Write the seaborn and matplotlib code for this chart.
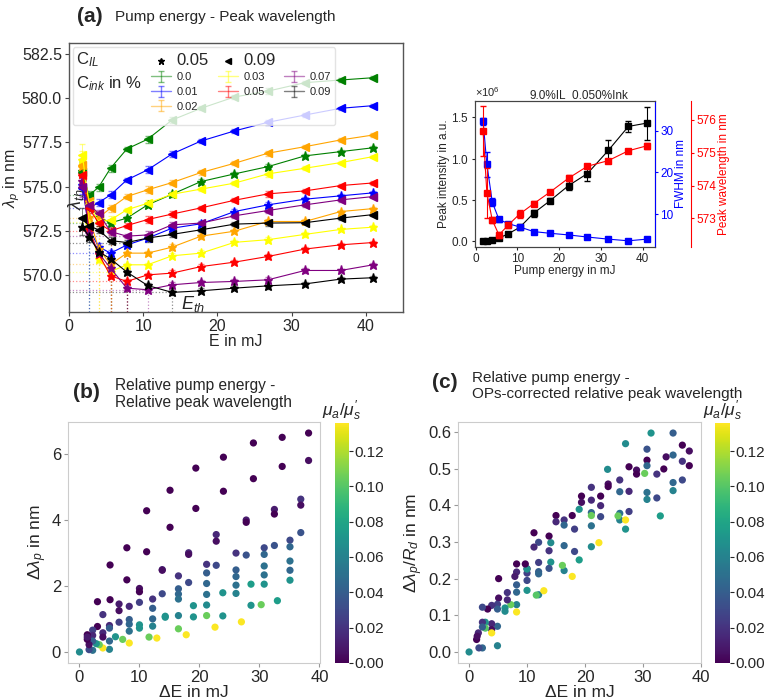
import numpy as np
import matplotlib
matplotlib.use("Agg")
import matplotlib.pyplot as plt
from matplotlib.lines import Line2D
from matplotlib.colors import Normalize
from matplotlib.cm import ScalarMappable
import seaborn as sns

sns.set_style("ticks")
plt.rcParams['font.family'] = ['Liberation Sans', 'DejaVu Sans']
plt.rcParams['mathtext.fontset'] = 'custom'
plt.rcParams['mathtext.rm'] = 'Liberation Sans'
plt.rcParams['mathtext.it'] = 'Liberation Sans:italic'
plt.rcParams['mathtext.bf'] = 'Liberation Sans:bold'

# ── Data: (a) pump energy vs peak wavelength ────────────────────────────────
energy = [1.8, 2.7, 4.0, 5.6, 7.8, 10.6, 13.9, 17.8, 22.3, 26.8, 31.8, 36.6, 41.0]
ink_labels = ['0.0', '0.01', '0.02', '0.03', '0.05', '0.07', '0.09']
ink_colors = ['green', 'blue', 'orange', 'yellow', 'red', 'purple', 'black']

# C_IL = 0.05 (stars), one row per ink concentration
lam_il05 = [
    [575.9, 574.0, 573.3, 572.95, 573.22, 573.97, 574.57, 575.29, 575.72, 576.13, 576.74, 576.98, 577.2],
    [575.1, 572.6, 571.6, 571.24, 571.7, 572.09, 572.65, 572.9, 573.59, 573.97, 574.29, 574.48, 574.65],
    [576.1, 573.3, 571.5, 570.6, 571.24, 571.24, 571.58, 572.2, 572.48, 573.03, 573.03, 573.59, 573.76],
    [576.5, 572.9, 570.9, 570.2, 570.58, 570.58, 571.09, 571.24, 571.85, 572.0, 572.3, 572.58, 572.71],
    [575.7, 572.6, 571.2, 569.96, 569.64, 570.01, 570.11, 570.48, 570.73, 571.05, 571.47, 571.71, 571.84],
    [575.3, 572.4, 571.24, 570.39, 569.26, 569.17, 569.45, 569.58, 569.64, 569.73, 570.26, 570.26, 570.58],
    [572.74, 572.18, 571.33, 570.92, 570.17, 569.41, 569.02, 569.11, 569.26, 569.39, 569.5, 569.77, 569.85],
]
# C_IL = 0.09 (triangles)
lam_il09 = [
    [575.85, 574.5, 574.97, 576.04, 577.13, 577.68, 578.77, 579.43, 580.07, 580.4, 580.88, 581.03, 581.16],
    [574.9, 573.78, 574.1, 574.53, 575.38, 575.95, 576.85, 577.58, 578.15, 578.64, 579.05, 579.43, 579.58],
    [576.2, 574.2, 573.25, 573.78, 574.44, 574.82, 575.23, 575.8, 576.32, 576.89, 577.26, 577.64, 577.92],
    [576.8, 574.0, 573.0, 573.12, 573.69, 574.06, 574.57, 574.86, 575.2, 575.72, 576.04, 576.36, 576.7],
    [575.65, 573.78, 572.95, 572.5, 572.8, 573.14, 573.45, 573.8, 574.23, 574.59, 574.76, 575.06, 575.21],
    [575.0, 573.97, 573.5, 572.46, 572.2, 572.27, 572.84, 572.94, 573.35, 573.65, 573.97, 574.25, 574.44],
    [573.2, 572.78, 572.56, 571.95, 571.84, 572.09, 572.3, 572.56, 572.88, 572.94, 572.96, 573.22, 573.42],
]
err_il05 = [0.5, 0.3, 0.2, 0.15, 0.12, 0.12, 0.15, 0.15, 0.12, 0.15, 0.12, 0.1, 0.1]
err_il09 = [0.6, 0.25, 0.2, 0.2, 0.12, 0.2, 0.15, 0.12, 0.12, 0.15, 0.1, 0.1, 0.1]

# ── Data: inset 9.0%IL_0.050%Ink ─────────────────────────────────────────────
inset_intensity = [0.0, 0.005, 0.02, 0.04, 0.09, 0.17, 0.34, 0.49, 0.675, 0.82, 1.10, 1.39, 1.43]
inset_int_err = [0.005, 0.005, 0.01, 0.01, 0.02, 0.02, 0.04, 0.03, 0.06, 0.09, 0.12, 0.07, 0.2]
inset_fwhm = [32.2, 22.0, 12.9, 8.8, 7.8, 7.0, 5.9, 5.5, 5.1, 4.6, 4.1, 3.7, 4.1]
inset_fwhm_err = [0.8, 3.0, 1.0, 0.5, 0.3, 0.3, 0.2, 0.2, 0.2, 0.2, 0.2, 0.2, 0.2]
inset_peak = [575.65, 573.78, 572.95, 572.5, 572.8, 573.14, 573.45, 573.8, 574.23, 574.59, 574.76, 575.06, 575.21]
inset_peak_err = [0.76, 0.76, 0.1, 0.08, 0.1, 0.12, 0.08, 0.06, 0.1, 0.06, 0.06, 0.05, 0.1]

# ── Data: (b) relative pump energy vs relative peak wavelength ──────────────
b_dE = [38.2, 38.2, 36.9, 36.9, 36.9, 35.1, 35.1, 35.1, 35.1, 35.1, 33.8, 33.8, 33.0,
        32.5, 32.5, 32.5, 30.8, 30.8, 30.8, 30.8, 30.8, 30.3, 29.0, 29.0, 28.6, 28.6,
        27.8, 27.8, 27.8, 27.0, 26.1, 26.1, 26.1, 26.1, 26.1, 24.0, 24.0, 23.9, 23.9,
        22.8, 22.8, 22.8, 22.6, 21.2, 21.2, 21.2, 21.2, 21.2, 21.2, 19.4, 19.4, 19.0,
        19.0, 18.2, 18.2, 18.2, 17.8, 16.5, 16.5, 16.5, 16.5, 16.5, 16.5, 15.1, 15.1,
        14.3, 14.3, 13.8, 13.8, 13.8, 12.9, 12.2, 12.2, 12.2, 12.2, 11.6, 11.2, 11.2,
        10.0, 10.0, 10.0, 10.0, 10.0, 8.3, 8.3, 8.3, 8.3, 8.3, 7.9, 7.9, 7.2, 6.6, 6.6,
        6.6, 6.0, 5.1, 5.1, 5.0, 5.0, 5.0, 5.0, 3.9, 3.9, 3.9, 3.9, 3.3, 3.0, 3.0, 2.8,
        2.2, 2.2, 2.2, 2.2, 1.6, 1.6, 1.3, 1.3, 1.3, 0.0]
b_dlam = [6.62, 5.79, 4.62, 4.44, 3.61, 3.38, 3.18, 2.75, 2.47, 2.17, 6.49, 5.61, 1.55,
          4.31, 4.17, 3.22, 3.15, 2.95, 2.6, 2.33, 2.05, 1.43, 6.32, 5.24, 1.41, 2.05,
          3.99, 3.92, 2.93, 0.91, 2.99, 2.48, 2.28, 2.02, 1.77, 5.89, 4.86, 1.79, 1.09,
          3.55, 3.35, 2.62, 0.75, 2.65, 2.39, 2.07, 1.74, 1.42, 1.1, 5.56, 4.34, 1.4,
          1.06, 3.0, 2.95, 2.1, 0.52, 2.3, 1.91, 1.75, 1.6, 1.1, 0.7, 4.89, 3.77,
          1.08, 1.05, 2.49, 2.47, 1.76, 0.42, 1.6, 1.32, 1.0, 0.78, 0.45, 4.27, 3.03,
          1.92, 1.82, 1.5, 0.82, 0.72, 1.38, 0.98, 0.84, 0.63, 0.27, 3.15, 2.18, 0.38,
          1.45, 1.25, 0.9, 0.46, 2.63, 1.58, 0.8, 0.72, 0.33, 0.08, 1.13, 0.58, 0.45,
          0.12, 0.22, 1.52, 0.77, 0.25, 0.66, 0.5, 0.33, 0.05, 0.07, 0.22, 0.52, 0.38,
          0.45, 0.0]
b_mu = [0.0, 0.005, 0.02, 0.005, 0.035, 0.03, 0.045, 0.05, 0.045, 0.07, 0.0, 0.0, 0.075,
        0.01, 0.0, 0.035, 0.03, 0.045, 0.05, 0.05, 0.07, 0.105, 0.0, 0.0, 0.07, 0.075,
        0.01, 0.0, 0.035, 0.135, 0.02, 0.04, 0.045, 0.05, 0.06, 0.0, 0.0, 0.07, 0.07,
        0.015, 0.005, 0.03, 0.135, 0.02, 0.04, 0.045, 0.05, 0.065, 0.105, 0.0, 0.0, 0.07,
        0.07, 0.015, 0.005, 0.03, 0.135, 0.02, 0.04, 0.045, 0.05, 0.06, 0.105, 0.0, 0.0,
        0.07, 0.07, 0.015, 0.005, 0.03, 0.135, 0.02, 0.04, 0.045, 0.06, 0.105, 0.0, 0.0,
        0.005, 0.0, 0.025, 0.07, 0.07, 0.015, 0.04, 0.045, 0.05, 0.135, 0.0, 0.0, 0.105,
        0.01, 0.005, 0.025, 0.07, 0.0, 0.0, 0.015, 0.04, 0.045, 0.06, 0.02, 0.015, 0.005,
        0.135, 0.105, 0.0, 0.0, 0.07, 0.025, 0.015, 0.04, 0.05, 0.03, 0.005, 0.0, 0.0,
        0.01, 0.065]

# ── Data: (c) OPs-corrected relative peak wavelength ────────────────────────
c_dE = [31.4, 35.2, 27.0, 36.8, 38.0, 30.7, 35.2, 34.0, 36.8, 30.7, 30.7, 38.0, 27.6,
        23.9, 28.9, 28.9, 30.3, 33.6, 32.4, 35.2, 36.8, 35.2, 30.7, 30.7, 32.4, 33.0,
        27.6, 27.6, 26.0, 26.0, 26.0, 26.0, 25.7, 27.0, 27.0, 24.0, 24.0, 22.7, 22.7,
        22.7, 22.4, 21.1, 21.1, 21.1, 21.1, 21.1, 21.1, 19.4, 19.4, 19.0, 19.0, 17.8,
        18.2, 18.2, 17.8, 16.4, 16.4, 16.4, 16.4, 16.1, 15.0, 15.0, 14.1, 14.1, 13.8,
        13.8, 13.8, 12.0, 12.0, 12.0, 12.0, 12.0, 11.6, 12.9, 11.2, 11.2, 10.0, 10.0,
        10.0, 10.0, 10.0, 9.7, 8.2, 8.2, 8.2, 8.2, 8.2, 8.2, 7.9, 7.2, 6.6, 6.6, 6.2,
        6.2, 5.1, 5.1, 4.9, 4.9, 4.9, 4.9, 3.9, 3.9, 3.9, 3.9, 3.2, 2.8, 2.8, 2.3, 2.3,
        2.3, 2.3, 1.7, 1.6, 1.3, 1.4, 0.0]
c_dlam = [0.597, 0.597, 0.568, 0.564, 0.548, 0.553, 0.537, 0.532, 0.52, 0.523, 0.508, 0.508, 0.505,
          0.498, 0.496, 0.485, 0.487, 0.499, 0.485, 0.462, 0.469, 0.44, 0.435, 0.416, 0.42, 0.371,
          0.438, 0.383, 0.469, 0.437, 0.378, 0.36, 0.371, 0.36, 0.335, 0.458, 0.451, 0.425, 0.399,
          0.369, 0.298, 0.449, 0.414, 0.38, 0.372, 0.344, 0.287, 0.425, 0.408, 0.389, 0.251, 0.372,
          0.335, 0.274, 0.206, 0.36, 0.346, 0.29, 0.222, 0.236, 0.372, 0.355, 0.298, 0.245, 0.316,
          0.276, 0.228, 0.299, 0.244, 0.219, 0.213, 0.156, 0.155, 0.167, 0.325, 0.286, 0.227, 0.215,
          0.226, 0.195, 0.168, 0.24, 0.24, 0.218, 0.183, 0.163, 0.129, 0.109, 0.206, 0.129, 0.162,
          0.142, 0.12, 0.111, 0.2, 0.147, 0.13, 0.117, 0.07, 0.017, 0.127, 0.077, 0.061, 0.052,
          0.117, 0.081, 0.065, 0.122, 0.081, 0.068, 0.011, 0.011, 0.052, 0.034, 0.043, 0.0]
c_mu = [0.07, 0.04, 0.065, 0.0, 0.005, 0.035, 0.045, 0.005, 0.02, 0.0, 0.045, 0.0, 0.0,
        0.065, 0.005, 0.0, 0.105, 0.0, 0.02, 0.045, 0.03, 0.06, 0.05, 0.06, 0.03, 0.075,
        0.015, 0.025, 0.02, 0.045, 0.05, 0.06, 0.105, 0.135, 0.07, 0.005, 0.0, 0.0, 0.015,
        0.03, 0.135, 0.02, 0.015, 0.045, 0.105, 0.05, 0.065, 0.0, 0.005, 0.07, 0.075, 0.0,
        0.025, 0.03, 0.135, 0.02, 0.045, 0.045, 0.06, 0.105, 0.0, 0.015, 0.065, 0.07, 0.0,
        0.02, 0.035, 0.03, 0.025, 0.04, 0.045, 0.06, 0.1, 0.135, 0.0, 0.015, 0.005, 0.025,
        0.07, 0.03, 0.07, 0.0, 0.0, 0.015, 0.04, 0.045, 0.06, 0.135, 0.01, 0.105, 0.02,
        0.015, 0.07, 0.065, 0.0, 0.005, 0.025, 0.04, 0.045, 0.06, 0.02, 0.015, 0.005, 0.135,
        0.0, 0.07, 0.1, 0.03, 0.02, 0.04, 0.045, 0.03, 0.015, 0.0, 0.005, 0.065]

MU_MAX = 0.136

fig = plt.figure(figsize=(7.66, 7.0), dpi=100)

# ─────────────────────────────────────────────────────────────────────────────
# (a) Pump energy - Peak wavelength
# ─────────────────────────────────────────────────────────────────────────────
ax_a = fig.add_axes([0.090, 0.554, 0.436, 0.384])
Y_LO, Y_HI = 567.9, 583.1

for lam_set, err_set, marker, ms in [(lam_il05, err_il05, '*', 6.5), (lam_il09, err_il09, '<', 5.5)]:
    for k, col in enumerate(ink_colors):
        lam = np.array(lam_set[k])
        eb = ax_a.errorbar(energy, lam, yerr=err_set, color=col, marker=marker, ms=ms,
                           lw=0.8, elinewidth=0.7, capsize=2, zorder=3)
        for bar in eb[2]:
            bar.set_alpha(0.5)
        for cap in eb[1]:
            cap.set_alpha(0.5)
        i = int(np.argmin(lam))
        ax_a.plot([0, energy[i]], [lam[i], lam[i]], ls=':', color=col, alpha=0.45, lw=0.9, zorder=1)
        ax_a.plot([energy[i], energy[i]], [Y_LO, lam[i]], ls=':', color=col, alpha=0.45, lw=0.9, zorder=1)

ax_a.set_xlim(0, 45)
ax_a.set_ylim(Y_LO, Y_HI)
ax_a.set_xticks([0, 10, 20, 30, 40])
ax_a.set_yticks([570.0, 572.5, 575.0, 577.5, 580.0, 582.5])
ax_a.yaxis.set_major_formatter(matplotlib.ticker.FormatStrFormatter('%.1f'))
ax_a.tick_params(labelsize=11.5, length=3, color='#444444', pad=2)
ax_a.set_xlabel("E in mJ", fontsize=11.5, labelpad=0)
ax_a.set_ylabel(r"$\lambda_p$ in nm", fontsize=11.5, labelpad=0)
for s in ax_a.spines.values():
    s.set_color('#555555')
    s.set_linewidth(1.0)

ax_a.text(15.1, 568.35, r"$E_{th}$", fontsize=13, ha='left', va='center')
ax_a.text(1.0, 574.3, r"$\lambda_{th}$", fontsize=13, rotation=90, ha='center', va='center')

# legend: C_IL markers + C_ink error-bar handles
blank = Line2D([], [], ls='none')
h_star = Line2D([], [], ls='none', marker='*', color='black', ms=5)
h_tri = Line2D([], [], ls='none', marker='<', color='black', ms=4)
ink_handles = []
for col in ink_colors:
    eb = ax_a.errorbar([np.nan], [np.nan], yerr=[0.1], color=col, lw=1.0, capsize=2.5,
                       alpha=0.5, label='_nolegend_')
    ink_handles.append(eb)

handles = [blank, blank, blank, blank,
           h_star, ink_handles[0], ink_handles[1], ink_handles[2],
           h_tri, ink_handles[3], ink_handles[4], blank,
           blank, ink_handles[5], ink_handles[6], blank]
labels = [r"C$_{IL}$", r"C$_{ink}$ in %", "", "",
          "0.05", ink_labels[0], ink_labels[1], ink_labels[2],
          "0.09", ink_labels[3], ink_labels[4], "",
          "", ink_labels[5], ink_labels[6], ""]
leg = ax_a.legend(handles, labels, ncol=4, loc='upper left', fontsize=8,
                  handlelength=1.8, handletextpad=0.5, columnspacing=0.8,
                  labelspacing=0.42, borderpad=0.3, borderaxespad=0.35,
                  framealpha=0.8, edgecolor='#dddddd', fancybox=True)
texts = leg.get_texts()
for idx in (0, 1):
    texts[idx].set_fontsize(12)
for idx in (4, 8, 12):
    texts[idx].set_fontsize(12)
try:
    col0 = leg._legend_handle_box.get_children()[0]
    for row in col0.get_children():
        row.get_children()[0].width = 0
        row.sep = 0
except Exception:
    pass

fig.text(90 / 766, 1 - 17 / 700, "(a)", fontsize=15, fontweight='bold', ha='center', va='center')
fig.text(115 / 766, 1 - 17 / 700, "Pump energy - Peak wavelength", fontsize=11, ha='left', va='center')

# ─────────────────────────────────────────────────────────────────────────────
# Inset: 9.0%IL_0.050%Ink
# ─────────────────────────────────────────────────────────────────────────────
ax_i = fig.add_axes([0.620, 0.647, 0.235, 0.209])
inset_int = np.array(inset_intensity) * 1e6
ax_i.errorbar(energy, inset_int, yerr=np.array(inset_int_err) * 1e6, color='black',
              marker='s', ms=4.5, lw=0.8, elinewidth=0.8, capsize=2)
ax_i.set_ylim(-0.07e6, 1.70e6)
ax_i.set_yticks([0, 0.5e6, 1.0e6, 1.5e6])
ax_i.ticklabel_format(axis='y', style='sci', scilimits=(0, 0), useMathText=True)
ax_i.yaxis.get_offset_text().set_fontsize(8)
ax_i.set_xticks([0, 10, 20, 30, 40])
ax_i.tick_params(labelsize=8.5, length=2.5, pad=1.5)
ax_i.set_xlabel("Pump energy in mJ", fontsize=8.5, labelpad=0)
ax_i.set_ylabel("Peak intensity in a.u.", fontsize=8.5, labelpad=1)
ax_i.set_title("9.0%IL_0.050%Ink", fontsize=8.5, pad=2, x=0.58)

ax_i2 = ax_i.twinx()
ax_i2.errorbar(energy, inset_fwhm, yerr=inset_fwhm_err, color='blue', marker='s', ms=4.5,
               lw=0.8, elinewidth=0.8, capsize=2)
ax_i2.set_ylim(2.2, 37.1)
ax_i2.set_yticks([10, 20, 30])
ax_i2.tick_params(axis='y', colors='blue', labelsize=8.5, length=2.5, pad=1.5)
ax_i2.set_ylabel("FWHM in nm", color='blue', fontsize=8.5, labelpad=1)
ax_i2.spines['right'].set_color('blue')

ax_i3 = ax_i.twinx()
ax_i3.spines['right'].set_position(('outward', 26))
ax_i3.errorbar(energy, inset_peak, yerr=inset_peak_err, color='red', marker='s', ms=4.5,
               lw=0.8, elinewidth=0.8, capsize=2)
ax_i3.set_ylim(572.13, 576.58)
ax_i3.set_yticks([573, 574, 575, 576])
ax_i3.tick_params(axis='y', colors='red', labelsize=8.5, length=2.5, pad=1.5)
ax_i3.set_ylabel("Peak wavelength in nm", color='red', fontsize=8.5, labelpad=1)
ax_i3.spines['right'].set_color('red')
for a in (ax_i, ax_i2, ax_i3):
    for side in ('left', 'top', 'bottom'):
        a.spines[side].set_color('#444444')
ax_i3.spines['left'].set_visible(False)
ax_i3.spines['top'].set_visible(False)
ax_i3.spines['bottom'].set_visible(False)

# ─────────────────────────────────────────────────────────────────────────────
# (b) and (c) scatter panels
# ─────────────────────────────────────────────────────────────────────────────
norm = Normalize(vmin=0.0, vmax=MU_MAX)


def scatter_panel(rect, cbar_rect, dE, dlam, mu, ylabel, yticks, yfmt):
    ax = fig.add_axes(rect)
    sns.scatterplot(x=dE, y=dlam, hue=mu, palette='viridis', hue_norm=norm, s=27,
                    linewidth=0, legend=False, ax=ax)
    ax.set_xticks([0, 10, 20, 30, 40])
    ax.set_yticks(yticks)
    ax.yaxis.set_major_formatter(matplotlib.ticker.FormatStrFormatter(yfmt))
    ax.tick_params(labelsize=12, length=3, color='#999999', pad=2)
    ax.set_xlabel("ΔE in mJ", fontsize=12.5, labelpad=0)
    ax.set_ylabel(ylabel, fontsize=12.5, labelpad=2)
    for s in ax.spines.values():
        s.set_color('#cccccc')
    cax = fig.add_axes(cbar_rect)
    cb = fig.colorbar(ScalarMappable(norm=norm, cmap='viridis'), cax=cax)
    cb.set_ticks([0.0, 0.02, 0.04, 0.06, 0.08, 0.10, 0.12])
    cb.ax.yaxis.set_major_formatter(matplotlib.ticker.FormatStrFormatter('%.2f'))
    cb.ax.tick_params(labelsize=11, length=3, pad=1)
    cb.outline.set_visible(False)
    cb.ax.set_title(r"$\mu_a/\mu_s'$", fontsize=12.5, pad=3)
    return ax


scatter_panel([0.0888, 0.053, 0.329, 0.344], [0.437, 0.053, 0.018, 0.343],
              b_dE, b_dlam, b_mu, r"$\Delta\lambda_p$ in nm", [0, 2, 4, 6], '%d')
fig.text(86 / 766, 1 - 392 / 700, "(b)", fontsize=15, fontweight='bold', ha='center', va='center')
fig.text(115 / 766, 1 - 378 / 700, "Relative pump energy -\nRelative peak wavelength",
         fontsize=11.2, ha='left', va='top', linespacing=1.15)

scatter_panel([0.598, 0.053, 0.317, 0.344], [0.933, 0.053, 0.0196, 0.343],
              c_dE, c_dlam, c_mu, r"$\Delta\lambda_p/R_d$ in nm",
              [0.0, 0.1, 0.2, 0.3, 0.4, 0.5, 0.6], '%.1f')
fig.text(445 / 766, 1 - 383 / 700, "(c)", fontsize=15, fontweight='bold', ha='center', va='center')
fig.text(472 / 766, 1 - 371 / 700, "Relative pump energy -\nOPs-corrected relative peak wavelength",
         fontsize=11, ha='left', va='top', linespacing=1.15)

fig.savefig("out.png", dpi=100)
